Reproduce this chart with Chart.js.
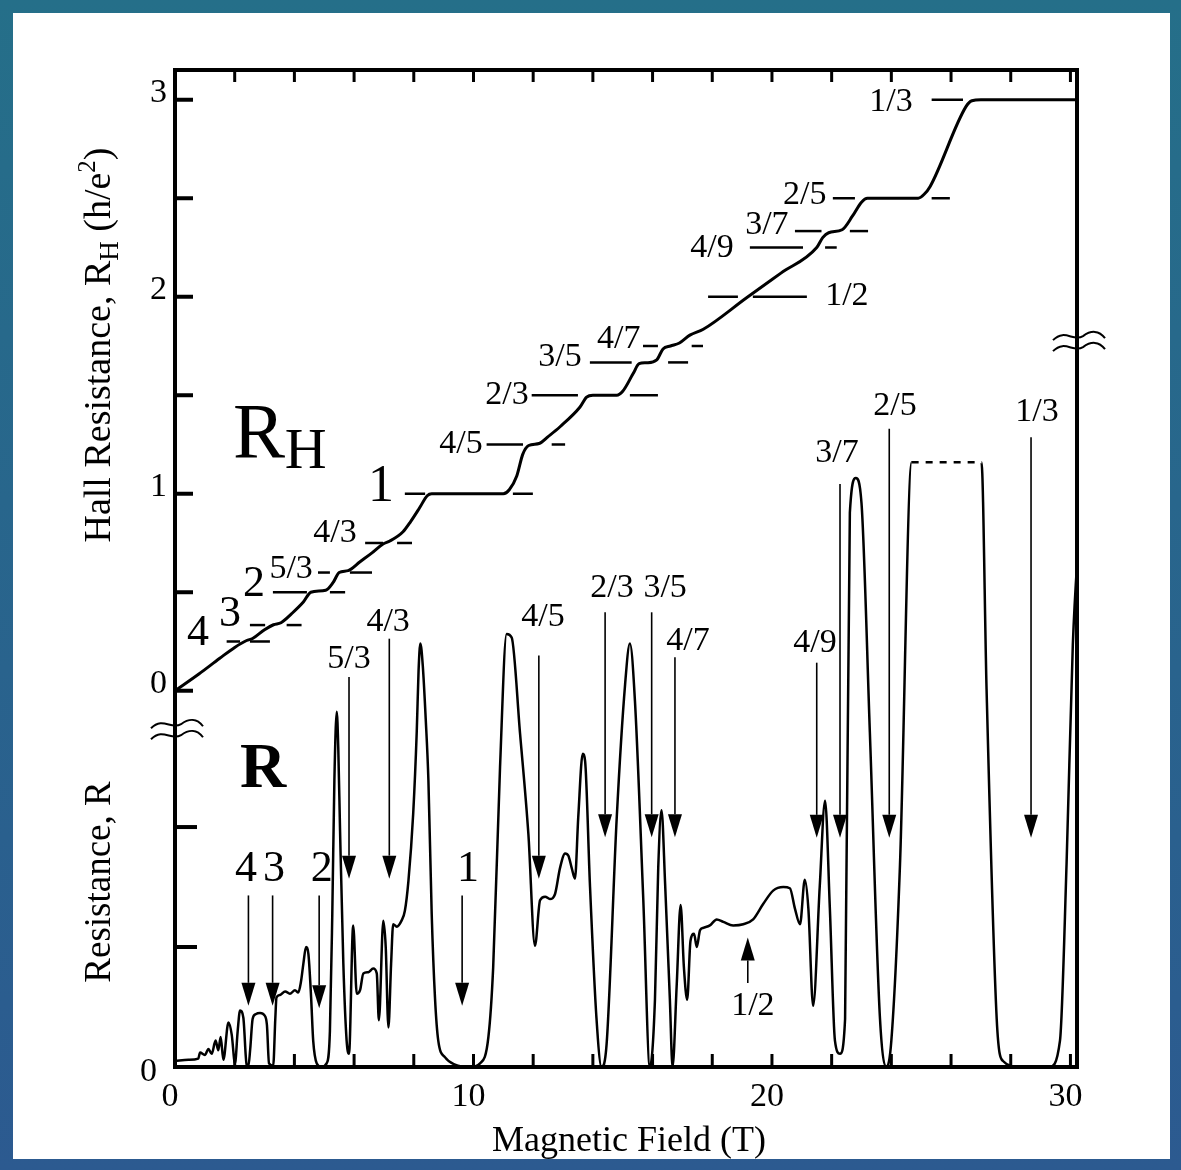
<!DOCTYPE html>
<html lang="en">
<head>
<meta charset="UTF-8">
<title>Quantum Hall effect - Hall and longitudinal resistance</title>
<script src="https://cdn.jsdelivr.net/npm/chart.js"></script>
<style>
  html, body { margin: 0; padding: 0; background: #2a6487; }
  #wrap { width: 1181px; height: 1170px; }
</style>
</head>
<body>
<div id="wrap"><canvas id="qhe" width="1181" height="1170"></canvas></div>
<script>
// longitudinal resistance R (arb. units) vs magnetic field (T)
const fieldR = [
  0.00, 0.45, 0.78, 0.84, 1.00, 1.12, 1.23, 1.36, 1.45, 1.53,
  1.62, 1.79, 1.90, 2.01, 2.10, 2.18, 2.29, 2.40, 2.46, 2.52,
  2.60, 2.70, 2.85, 3.00, 3.08, 3.15, 3.29, 3.36, 3.40, 3.52,
  3.69, 3.85, 4.02, 4.13, 4.22, 4.30, 4.39, 4.47, 4.56, 4.63,
  4.75, 4.91, 5.08, 5.19, 5.27, 5.34, 5.42, 5.47, 5.53, 5.64,
  5.75, 5.83, 5.97, 6.09, 6.20, 6.31, 6.48, 6.64, 6.76, 6.83,
  6.98, 7.06, 7.15, 7.24, 7.31, 7.43, 7.59, 7.70, 7.82, 7.98,
  8.10, 8.16, 8.22, 8.30, 8.40, 8.49, 8.60, 8.71, 8.82, 9.05,
  9.38, 9.88, 10.22, 10.50, 10.66, 10.89, 11.11, 11.28, 11.56, 11.84,
  12.06, 12.23, 12.40, 12.56, 12.73, 12.90, 13.07, 13.18, 13.29, 13.40,
  13.51, 13.66, 13.74, 13.90, 14.12, 14.29, 14.46, 14.80, 15.08, 15.24,
  15.41, 15.69, 15.91, 16.08, 16.19, 16.30, 16.42, 16.58, 16.67, 16.81,
  16.94, 17.05, 17.16, 17.27, 17.39, 17.48, 17.59, 17.70, 17.92, 18.15,
  18.37, 18.70, 19.04, 19.37, 19.71, 20.04, 20.38, 20.60, 20.77, 20.94,
  21.10, 21.22, 21.38, 21.60, 21.78, 21.94, 22.11, 22.28, 22.45, 22.61,
  22.81, 23.00, 23.28, 23.62, 23.84, 24.00, 24.29, 24.68, 27.02, 27.19,
  27.53, 27.74, 28.30, 29.30, 29.65, 29.87, 30.08, 30.30
];
const resistR = [
  0.05, 0.06, 0.07, 0.12, 0.10, 0.15, 0.11, 0.22, 0.14, 0.25,
  0.06, 0.37, 0.27, 0.03, 0.30, 0.47, 0.41, 0.02, 0.01, 0.15,
  0.40, 0.44, 0.45, 0.43, 0.35, 0.03, 0.01, 0.40, 0.58, 0.60,
  0.63, 0.61, 0.64, 0.62, 0.71, 0.86, 1.00, 0.94, 0.58, 0.22,
  0.03, 0.00, 0.03, 0.30, 1.28, 2.39, 2.96, 2.66, 1.97, 0.86,
  0.22, 0.11, 1.18, 0.61, 0.64, 0.78, 0.79, 0.82, 0.78, 0.39,
  1.22, 1.00, 0.33, 0.86, 1.19, 1.17, 1.22, 1.30, 1.55, 2.11,
  2.80, 3.30, 3.53, 3.35, 2.90, 2.39, 1.28, 0.58, 0.22, 0.08,
  0.02, 0.00, 0.03, 0.25, 0.83, 2.50, 3.61, 3.58, 2.78, 1.94,
  1.01, 1.39, 1.42, 1.40, 1.44, 1.66, 1.78, 1.76, 1.66, 1.57,
  2.08, 2.61, 2.55, 1.53, 0.41, 0.00, 0.19, 2.08, 3.19, 3.53,
  3.05, 1.39, 0.00, 0.56, 1.66, 2.14, 1.53, 0.56, 0.00, 0.69,
  1.35, 0.83, 0.56, 1.05, 1.11, 1.00, 1.14, 1.16, 1.18, 1.23,
  1.21, 1.18, 1.19, 1.23, 1.36, 1.47, 1.50, 1.49, 1.32, 1.19,
  1.56, 1.32, 0.51, 1.50, 2.22, 1.32, 0.22, 0.11, 0.40, 4.62,
  4.91, 4.70, 2.79, 0.40, 0.00, 0.22, 1.69, 5.04, 5.04, 3.15,
  0.40, 0.05, 0.00, 0.00, 0.22, 1.69, 3.52, 4.50
];
// off-scale stretch of R (drawn dashed)
const offScaleFrom = 24.68, offScaleTo = 27.02;

// Hall resistance (h/e^2) vs magnetic field (T)
const fieldH = [
  0, 0.8, 1.5, 2.0, 2.4, 2.6, 3.0, 3.3, 3.55, 3.9,
  4.3, 4.55, 5.05, 5.3, 5.5, 5.8, 6.2, 6.6, 6.97, 7.2,
  7.64, 7.9, 8.2, 8.45, 8.6, 11.0, 11.2, 11.45, 11.65, 11.85,
  12.2, 12.5, 12.9, 13.57, 13.79, 14.0, 14.8, 15.0, 15.35, 15.55,
  15.8, 16.14, 16.35, 16.6, 16.9, 17.25, 17.7, 19.15, 20.3, 21.5,
  21.7, 21.9, 22.35, 22.7, 23.0, 23.2, 24.9, 25.1, 25.3, 26.5,
  26.7, 27.0, 30.3
];
const hallH = [
  0, 0.085, 0.165, 0.22, 0.255, 0.265, 0.31, 0.335, 0.345, 0.39,
  0.45, 0.50, 0.51, 0.55, 0.60, 0.61, 0.655, 0.70, 0.745, 0.76,
  0.807, 0.86, 0.93, 0.99, 1.0, 1.0, 1.02, 1.09, 1.20, 1.245,
  1.255, 1.29, 1.34, 1.44, 1.49, 1.50, 1.50, 1.52, 1.61, 1.66,
  1.665, 1.68, 1.735, 1.75, 1.765, 1.805, 1.835, 1.995, 2.12, 2.25,
  2.30, 2.325, 2.34, 2.41, 2.48, 2.50, 2.50, 2.52, 2.56, 2.965,
  2.995, 3.0, 3.0
];

// quantized Hall levels (1/nu) with their reference marks (field ranges, T)
const hallFrac  = ['4', '3', '2', '5/3', '4/3', '1', '4/5', '2/3', '3/5', '4/7', '1/2', '4/9', '3/7', '2/5', '1/3'];
const hallLevel = [1/4, 1/3, 1/2, 3/5, 3/4, 1, 5/4, 3/2, 5/3, 7/4, 2, 9/4, 7/3, 5/2, 3];
const markA = [[1.73,2.18],[2.51,3.02],[3.28,4.42],[4.79,5.19],[6.37,6.97],[7.70,8.38],[10.44,11.66],[11.95,13.50],[13.90,15.30],[15.68,16.18],[17.86,18.86],[19.26,21.04],[20.77,21.66],[22.04,22.78],[25.35,26.40]];
const markB = [[2.51,3.18],[3.74,4.24],[5.19,5.70],[5.86,6.60],[7.44,7.94],[11.32,11.99],[12.62,13.07],[15.24,16.18],[16.52,17.19],[17.31,17.69],[19.36,21.17],[21.78,22.17],[22.61,23.22],[25.35,25.96],null];

// filling-factor arrows in the R panel: field (T), start R, tip R
const arrowFrac  = ['4', '3', '2', '5/3', '4/3', '1', '4/5', '2/3', '3/5', '4/7', '1/2', '4/9', '3/7', '2/5', '1/3'];
const arrowField = [2.46, 3.27, 4.83, 5.83, 7.18, 9.62, 12.19, 14.41, 15.97, 16.75, 19.19, 21.50, 22.28, 23.93, 28.68];
const arrowFrom  = [1.43, 1.43, 1.43, 3.25, 3.57, 1.43, 3.43, 3.79, 3.79, 3.415, 0.70, 3.37, 4.86, 5.32, 5.25];
const arrowTo    = [0.51, 0.51, 0.49, 1.57, 1.57, 0.51, 1.57, 1.915, 1.915, 1.915, 1.08, 1.91, 1.91, 1.91, 1.91];

const xTickLabels = [0, 10, 20, 30];
const hallTickLabels = [0, 1, 2, 3];

// ---- layout (label placement, in data units) ----
const hallLabelAt = [[0.77,0.29],[1.84,0.385],[2.65,0.54],[3.89,0.618],[5.36,0.80],[6.9,1.03],[9.58,1.252],[11.12,1.50],[12.9,1.694],[14.87,1.785],[22.51,2.004],[17.99,2.247],[19.83,2.364],[21.1,2.516],[23.99,2.988]];
const hallLabelBig = ['4', '3', '2', '1'];
const arrowLabelAt = [[2.38,1.646],[3.32,1.646],[4.92,1.646],[5.83,3.40],[7.14,3.71],[9.82,1.646],[12.33,3.746],[14.64,3.99],[16.42,3.99],[17.19,3.546],[19.36,0.504],[21.44,3.537],[22.18,5.12],[24.12,5.51],[28.88,5.455]];

const SERIF = '"Liberation Serif", "DejaVu Serif", serif';

function font(size, bold) { return (bold ? 'bold ' : '') + size + 'px ' + SERIF; }

function drawArrow(c, x, y0, y1) {
  const dir = y1 > y0 ? 1 : -1;
  const hl = 23, hw = 7;
  c.lineWidth = 1.6;
  c.beginPath(); c.moveTo(x, y0); c.lineTo(x, y1 - dir * hl); c.stroke();
  c.beginPath(); c.moveTo(x, y1); c.lineTo(x - hw, y1 - dir * hl); c.lineTo(x + hw, y1 - dir * hl);
  c.closePath(); c.fill();
}

function richText(c, parts, cx, cy, rot) {
  c.save();
  c.translate(cx, cy);
  if (rot) c.rotate(rot);
  let w = 0;
  parts.forEach(p => { c.font = font(p.s); w += c.measureText(p.t).width; });
  let x = -w / 2;
  c.textBaseline = 'alphabetic';
  c.textAlign = 'left';
  parts.forEach(p => {
    c.font = font(p.s);
    c.fillText(p.t, x, (p.dy || 0));
    x += c.measureText(p.t).width;
  });
  c.restore();
}

function breakMark(c, x, y) {
  c.save();
  c.lineWidth = 2;
  for (const dy of [0, 11]) {
    c.beginPath();
    c.moveTo(x - 24, y + dy + 4);
    c.bezierCurveTo(x - 12, y + dy - 8, x - 4, y + dy + 6, x + 6, y + dy);
    c.bezierCurveTo(x + 14, y + dy - 6, x + 22, y + dy - 6, x + 28, y + dy + 2);
    c.stroke();
  }
  c.restore();
}

const decor = {
  id: 'decor',
  beforeDraw(chart) {
    const c = chart.ctx, W = chart.width, H = chart.height;
    const g = c.createLinearGradient(0, 0, 0, H);
    g.addColorStop(0, '#256f89');
    g.addColorStop(1, '#2c5a90');
    c.save();
    c.fillStyle = g;
    c.fillRect(0, 0, W, H);
    c.fillStyle = '#ffffff';
    c.fillRect(13, 13, W - 24, H - 24);
    c.restore();
  },
  afterDatasetsDraw(chart) {
    const c = chart.ctx;
    const xs = chart.scales.x, yh = chart.scales.yH, yr = chart.scales.yR;
    const a = chart.chartArea;
    c.save();
    c.strokeStyle = '#000';
    c.fillStyle = '#000';

    // frame
    c.lineWidth = 4;
    c.strokeRect(a.left, a.top, a.right - a.left, a.bottom - a.top);

    // inward ticks
    c.lineWidth = 3;
    for (let t = 2; t <= 30; t += 2) {
      const x = xs.getPixelForValue(t);
      c.beginPath(); c.moveTo(x, a.top); c.lineTo(x, a.top + 12); c.stroke();
      c.beginPath(); c.moveTo(x, a.bottom); c.lineTo(x, a.bottom - 13); c.stroke();
    }
    c.lineWidth = 4;
    for (let v = 0; v <= 3; v += 0.5) {
      const y = yh.getPixelForValue(v);
      c.beginPath(); c.moveTo(a.left, y); c.lineTo(a.left + 18, y); c.stroke();
    }
    for (const v of [1, 2]) {
      const y = yr.getPixelForValue(v);
      c.beginPath(); c.moveTo(a.left, y); c.lineTo(a.left + 22, y); c.stroke();
    }

    // axis breaks
    breakMark(c, a.left, yh.getPixelForValue(-0.17));
    breakMark(c, a.right, yh.getPixelForValue(1.80));

    // tick labels
    c.font = font(34);
    c.textBaseline = 'middle';
    c.textAlign = 'right';
    hallTickLabels.forEach(v => c.fillText(String(v), a.left - 8, yh.getPixelForValue(v) - 7));
    c.fillText('0', a.left - 18, yr.getPixelForValue(0) + 5);
    c.textAlign = 'center';
    xTickLabels.forEach(v => c.fillText(String(v), xs.getPixelForValue(v) - 5, a.bottom + 30));

    // axis titles
    c.textAlign = 'center';
    c.textBaseline = 'alphabetic';
    c.font = font(36);
    c.fillText('Magnetic Field (T)', (a.left + a.right) / 2 + 3, a.bottom + 84);
    richText(c, [
      { t: 'Hall Resistance, R', s: 38 },
      { t: 'H', s: 27, dy: 8 },
      { t: ' (h/e', s: 38 },
      { t: '2', s: 25, dy: -15 },
      { t: ')', s: 38 }
    ], 110, 345, -Math.PI / 2);
    richText(c, [{ t: 'Resistance, R', s: 37 }], 110, 882, -Math.PI / 2);

    // Hall reference marks
    c.lineWidth = 2.5;
    hallLevel.forEach((lv, i) => {
      const y = yh.getPixelForValue(lv);
      [markA[i], markB[i]].forEach(m => {
        if (!m) return;
        c.beginPath(); c.moveTo(xs.getPixelForValue(m[0]), y); c.lineTo(xs.getPixelForValue(m[1]), y); c.stroke();
      });
    });

    // Hall fraction labels
    c.textAlign = 'center';
    c.textBaseline = 'middle';
    hallFrac.forEach((f, i) => {
      const big = hallLabelBig.includes(f);
      c.font = font(f === '1' ? 52 : big ? 44 : 34);
      c.fillText(f, xs.getPixelForValue(hallLabelAt[i][0]), yh.getPixelForValue(hallLabelAt[i][1]));
    });

    // arrows in the R panel
    arrowFrac.forEach((f, i) => {
      const x = xs.getPixelForValue(arrowField[i]);
      drawArrow(c, x, yr.getPixelForValue(arrowFrom[i]), yr.getPixelForValue(arrowTo[i]));
      const big = f.length === 1;
      c.font = font(big ? 44 : 34);
      c.fillText(f, xs.getPixelForValue(arrowLabelAt[i][0]), yr.getPixelForValue(arrowLabelAt[i][1]));
    });

    // panel letters
    c.textAlign = 'left';
    c.textBaseline = 'alphabetic';
    c.font = font(78);
    c.fillText('R', xs.getPixelForValue(1.94), yh.getPixelForValue(1.186));
    c.font = font(58);
    c.fillText('H', xs.getPixelForValue(3.68), yh.getPixelForValue(1.13));
    c.font = font(64, true);
    c.fillText('R', xs.getPixelForValue(2.18), yr.getPixelForValue(2.33));

    c.restore();
  }
};

new Chart(document.getElementById('qhe'), {
  type: 'line',
  data: {
    datasets: [
      {
        label: 'R_H',
        yAxisID: 'yH',
        data: fieldH.map((b, i) => ({ x: b, y: hallH[i] })),
        borderColor: '#000',
        borderWidth: 3,
        pointRadius: 0,
        cubicInterpolationMode: 'monotone',
        fill: false
      },
      {
        label: 'R',
        yAxisID: 'yR',
        data: fieldR.map((b, i) => ({ x: b, y: resistR[i] })),
        borderColor: '#000',
        borderWidth: 2.5,
        pointRadius: 0,
        cubicInterpolationMode: 'monotone',
        fill: false,
        segment: {
          borderDash: ctx => (ctx.p0.parsed.x >= offScaleFrom - 0.01 && ctx.p1.parsed.x <= offScaleTo + 0.01) ? [7, 7] : undefined
        }
      }
    ]
  },
  options: {
    responsive: false,
    maintainAspectRatio: false,
    animation: false,
    devicePixelRatio: 1,
    layout: { padding: { left: 175, right: 104, top: 70, bottom: 103 } },
    plugins: { legend: { display: false }, tooltip: { enabled: false } },
    scales: {
      x: { type: 'linear', min: 0, max: 30.22, display: false },
      yH: { type: 'linear', min: -1.91, max: 3.151, display: false },
      yR: { type: 'linear', min: 0, max: 8.31, display: false }
    }
  },
  plugins: [decor]
});
</script>
</body>
</html>
